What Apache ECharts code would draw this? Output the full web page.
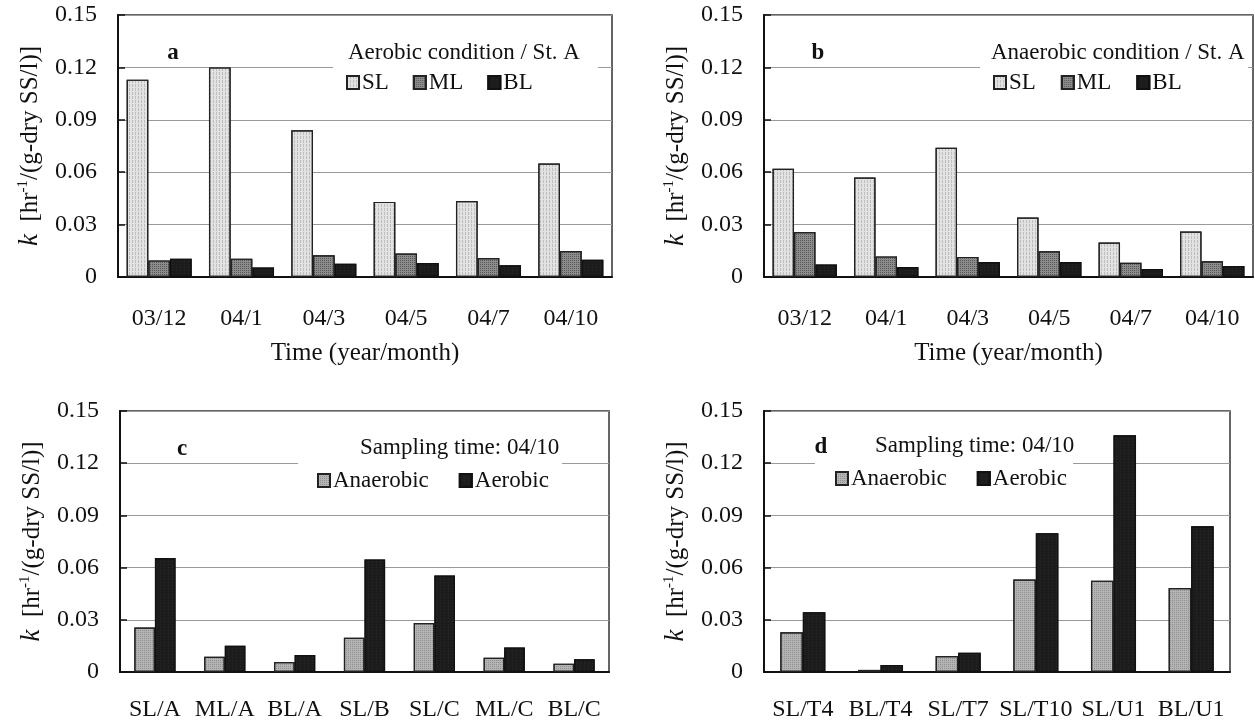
<!DOCTYPE html>
<html>
<head>
<meta charset="utf-8">
<script src="https://cdn.jsdelivr.net/npm/echarts@6/dist/echarts.min.js"></script>
<style>
  html, body { margin: 0; padding: 0; background: #fff; }
  #chart { width: 1255px; height: 722px; }
</style>
</head>
<body>
<div id="chart"></div>
<script>
// Rate constant k of each sludge layer, four panels (a-d)
const monthCats = ['03/12', '04/1', '04/3', '04/5', '04/7', '04/10'];
const siteCatsC = ['SL/A', 'ML/A', 'BL/A', 'SL/B', 'SL/C', 'ML/C', 'BL/C'];
const siteCatsD = ['SL/T4', 'BL/T4', 'SL/T7', 'SL/T10', 'SL/U1', 'BL/U1'];

// (a) aerobic condition, St. A
const aerobicSL = [0.113, 0.120, 0.084, 0.043, 0.0435, 0.065];
const aerobicML = [0.0095, 0.0105, 0.0124, 0.0134, 0.0109, 0.0149];
const aerobicBL = [0.0105, 0.0054, 0.0076, 0.0080, 0.0067, 0.0099];

// (b) anaerobic condition, St. A
const anaerobicSL = [0.062, 0.057, 0.074, 0.034, 0.0197, 0.026];
const anaerobicML = [0.0258, 0.0118, 0.0115, 0.0147, 0.0082, 0.0090];
const anaerobicBL = [0.0071, 0.0057, 0.0086, 0.0086, 0.0046, 0.0063];

// (c) sampling time 04/10
const cAnaerobic = [0.0256, 0.0088, 0.0057, 0.0197, 0.0282, 0.0082, 0.0048];
const cAerobic   = [0.0655, 0.0151, 0.0097, 0.0647, 0.0555, 0.0141, 0.0073];

// (d) sampling time 04/10
const dAnaerobic = [0.0228, 0.0012, 0.0092, 0.0531, 0.0525, 0.0483];
const dAerobic   = [0.0344, 0.0040, 0.0111, 0.0798, 0.1360, 0.0838];

const yTicks = { min: 0, max: 0.15, step: 0.03 };

const FONT = 'Liberation Serif';
const INK = '#111';

const decalLight = { symbol: 'rect', symbolSize: 1, color: 'rgba(120,120,120,0.35)', dashArrayX: [1, 2], dashArrayY: [3, 1] };
const decalMid = { symbol: 'rect', symbolSize: 1, color: 'rgba(25,25,25,0.45)', dashArrayX: [1, 1], dashArrayY: [1, 1] };
const decalDots = { symbol: 'rect', symbolSize: 1, color: 'rgba(90,90,90,0.4)', dashArrayX: [1, 1], dashArrayY: [1, 1] };
const decalDark = { symbol: 'rect', symbolSize: 1, color: 'rgba(70,70,70,0.35)', dashArrayX: [1, 3], dashArrayY: [1, 2] };

const styleSL = { color: '#e2e2e2', borderColor: '#222', borderWidth: 1.2, decal: decalLight };
const styleML = { color: '#8c8c8c', borderColor: '#222', borderWidth: 1.2, decal: decalMid };
const styleBL = { color: '#1c1c1c', borderColor: '#111', borderWidth: 1.2, decal: decalDark };
const styleAna = { color: '#b4b4b4', borderColor: '#222', borderWidth: 1.2, decal: decalDots };
const styleAer = { color: '#1c1c1c', borderColor: '#111', borderWidth: 1.2, decal: decalDark };

const grids = [
  { left: 118, top: 15, width: 494, height: 262 },
  { left: 764, top: 15, width: 489, height: 262 },
  { left: 120, top: 411, width: 489, height: 262 },
  { left: 764, top: 411, width: 466, height: 262 }
].map(g => Object.assign({ show: true, borderColor: '#333', borderWidth: 1.5, backgroundColor: 'transparent' }, g));

function xAxisFor(idx, cats, labelGap, name) {
  return {
    type: 'category', gridIndex: idx, data: cats,
    axisLine: { lineStyle: { color: INK, width: 2 } },
    axisTick: { inside: true, length: 8, lineStyle: { color: INK, width: 1.5 } },
    axisLabel: { interval: 0, margin: labelGap, fontSize: 24, fontFamily: FONT, color: INK },
    name: name || '', nameLocation: 'middle', nameGap: 64,
    nameTextStyle: { fontSize: 25, fontFamily: FONT, color: INK }
  };
}

function yAxisFor(idx) {
  return {
    type: 'value', gridIndex: idx, min: yTicks.min, max: yTicks.max, interval: yTicks.step,
    axisLine: { show: true, lineStyle: { color: INK, width: 2 } },
    axisTick: { show: true, inside: true, length: 7, lineStyle: { color: INK, width: 1.5 } },
    splitLine: { show: true, lineStyle: { color: '#9a9a9a', width: 1 } },
    axisLabel: {
      margin: 21, fontSize: 24, fontFamily: FONT, color: INK,
      formatter: v => (Math.abs(v) < 1e-9 ? '0' : v.toFixed(2))
    },
    name: '{i|k}  [hr{s|-1}/(g-dry SS/l)]',
    nameLocation: 'middle', nameGap: 74,
    nameTextStyle: {
      fontSize: 25, fontFamily: FONT, color: INK, lineHeight: 28,
      rich: {
        i: { fontStyle: 'italic', fontSize: 27, fontFamily: FONT, color: INK, lineHeight: 28 },
        s: { fontSize: 15, fontFamily: FONT, color: INK, lineHeight: 15, verticalAlign: 'top' }
      }
    }
  };
}

function barSeries(name, data, idx, style, catGap) {
  return {
    type: 'bar', name, data, xAxisIndex: idx, yAxisIndex: idx,
    barGap: '0%', barCategoryGap: catGap, itemStyle: style,
    emphasis: { disabled: true }, animation: false
  };
}

function legendFor(names, left, top, gap) {
  return {
    data: names, left, top, padding: 0, itemWidth: 12, itemHeight: 13, itemGap: gap,
    icon: 'rect', selectedMode: false,
    textStyle: { fontSize: 23, fontFamily: FONT, color: INK, padding: [0, 0, 0, -2] }
  };
}

function whiteBox(x, y, w, h) {
  return { type: 'rect', z: 3, shape: { x, y, width: w, height: h }, style: { fill: '#fff' } };
}
function caption(text, x, y, align, bold) {
  return {
    type: 'text', z: 5, x, y,
    style: {
      text, fill: INK, textAlign: align, textVerticalAlign: 'middle',
      font: (bold ? 'bold ' : '') + '23px "' + FONT + '"'
    }
  };
}

const option = {
  backgroundColor: '#fff',
  animation: false,
  grid: grids,
  xAxis: [
    xAxisFor(0, monthCats, 30, 'Time (year/month)'),
    xAxisFor(1, monthCats, 30, 'Time (year/month)'),
    xAxisFor(2, siteCatsC, 26),
    xAxisFor(3, siteCatsD, 26)
  ],
  yAxis: [yAxisFor(0), yAxisFor(1), yAxisFor(2), yAxisFor(3)],
  legend: [
    legendFor(['SL', 'ML', 'BL'], 346, 71, 24),
    legendFor(['SL', 'ML', 'BL'], 993, 71, 25),
    legendFor(['Anaerobic', 'Aerobic'], 317, 469, 30),
    legendFor(['Anaerobic', 'Aerobic'], 835, 467, 30)
  ],
  graphic: [
    whiteBox(333, 38, 265, 60),
    whiteBox(980, 38, 268, 60),
    whiteBox(298, 432, 264, 66),
    whiteBox(815, 430, 258, 66),
    caption('a', 173, 53, 'center', true),
    caption('b', 818, 53, 'center', true),
    caption('c', 182, 449, 'center', true),
    caption('d', 821, 447, 'center', true),
    caption('Aerobic condition / St. A', 348, 53, 'left', false),
    caption('Anaerobic condition / St. A', 991, 53, 'left', false),
    caption('Sampling time: 04/10', 360, 448, 'left', false),
    caption('Sampling time: 04/10', 875, 446, 'left', false)
  ],
  series: [
    barSeries('SL', aerobicSL, 0, styleSL, '21%'),
    barSeries('ML', aerobicML, 0, styleML, '21%'),
    barSeries('BL', aerobicBL, 0, styleBL, '21%'),
    barSeries('SL', anaerobicSL, 1, styleSL, '21%'),
    barSeries('ML', anaerobicML, 1, styleML, '21%'),
    barSeries('BL', anaerobicBL, 1, styleBL, '21%'),
    barSeries('Anaerobic', cAnaerobic, 2, styleAna, '41%'),
    barSeries('Aerobic', cAerobic, 2, styleAer, '41%'),
    barSeries('Anaerobic', dAnaerobic, 3, styleAna, '42%'),
    barSeries('Aerobic', dAerobic, 3, styleAer, '42%')
  ]
};

const chart = echarts.init(document.getElementById('chart'), null, { renderer: 'canvas' });
chart.setOption(option);
</script>
</body>
</html>
